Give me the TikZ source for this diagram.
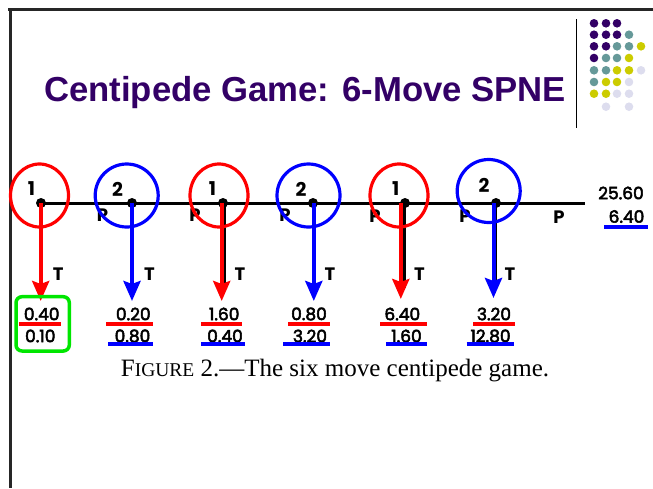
\documentclass[tikz,border=0pt]{standalone}
\usepackage{fontspec}
\setmainfont{Liberation Serif}
\newfontfamily\titlefont{Liberation Sans}
\newfontfamily\numfont{Poppins}
\newfontfamily\payfont[FakeBold=3]{Poppins}
\usetikzlibrary{arrows.meta,shapes.geometric}

\definecolor{deckpurple}{RGB}{51,0,102}
\definecolor{deckteal}{RGB}{102,153,153}
\definecolor{deckyellow}{RGB}{204,204,0}
\definecolor{decklav}{RGB}{221,221,238}
\definecolor{pone}{RGB}{255,0,0}
\definecolor{ptwo}{RGB}{0,0,255}
\definecolor{spnegreen}{RGB}{0,230,0}

\begin{document}
\begin{tikzpicture}[x=1pt,y=-1pt,
  decision/.style={circle,fill=black,inner sep=0pt,minimum size=10pt},
  ringone/.style={ellipse,draw=pone,line width=3.2pt,minimum width=58pt,minimum height=63pt,inner sep=0pt},
  ringtwo/.style={circle,draw=ptwo,line width=3.2pt,minimum size=63pt,inner sep=0pt},
  who/.style={font=\numfont\bfseries\fontsize{19}{19}\selectfont,inner sep=0pt},
  act/.style={font=\numfont\bfseries\fontsize{18}{18}\selectfont,inner sep=0pt},
  pay/.style={font=\payfont\fontsize{17}{17}\selectfont,inner sep=0pt},
  takeone/.style={pone,line width=4pt,-{Stealth[length=20pt,width=17pt,inset=3pt]}},
  taketwo/.style={ptwo,line width=4pt,-{Stealth[length=20pt,width=17pt,inset=3pt]}},
  ulone/.style={pone,line width=4pt},
  ultwo/.style={ptwo,line width=4pt},
  deckdot/.style={radius=4.3pt}]
\useasboundingbox (0,0) rectangle (653,488);

% slide frame
\draw[black!85,line width=3pt] (8,9) -- (653,9);
\draw[black!85,line width=2.5pt] (10.3,8) -- (10.3,488);

% title and separator
\node[anchor=base west,inner sep=0pt,text=deckpurple,
      font=\titlefont\bfseries\fontsize{34.7}{40}\selectfont] (title) at (44,101)
      {Centipede Game: 6-Move SPNE};
\draw[black,line width=1pt] (576,19) -- (576,128);

% decorative dot grid
\foreach \c/\x/\y in {
  deckpurple/594/23.3, deckpurple/606/23.3, deckpurple/617/23.3,
  deckpurple/594/34.7, deckpurple/606/34.7, deckpurple/617/34.7, deckteal/629/34.7,
  deckpurple/594/46.3, deckpurple/606/46.3, deckteal/617/46.3, deckteal/629/46.3, deckyellow/641/46.3,
  deckpurple/594/58, deckteal/606/58, deckteal/617/58, deckyellow/629/58,
  deckteal/594/70.3, deckteal/606/70.3, deckyellow/617/70.3, deckyellow/629/70.3, decklav/641/70.3,
  deckteal/594/82, deckyellow/606/82, deckyellow/617/82, decklav/629/82,
  deckyellow/594/93.7, deckyellow/606/93.7, decklav/617/93.7, decklav/629/93.7,
  decklav/606/106.7, decklav/629/106.7}
  \fill[\c] (\x,\y) circle[deckdot];

% the game line
\node[decision] (d1) at (41,203) {};
\node[decision] (d2) at (132,203) {};
\node[decision] (d3) at (223,203) {};
\node[decision] (d4) at (313,203) {};
\node[decision] (d5) at (405,203) {};
\node[decision] (d6) at (496,203) {};
\coordinate (stop) at (585,203);
\draw[black,line width=3pt] (d1.center) -- (stop);

% pass labels
\node[act] (p1) at (102.5,215) {P};
\node[act] (p2) at (195,215) {P};
\node[act] (p3) at (285,215) {P};
\node[act] (p4) at (375,216) {P};
\node[act] (p5) at (465,216) {P};
\node[act] (p6) at (559,217) {P};

% original black stems showing beside the coloured ones
\draw[black,line width=2.2pt] (225,203) -- (225,288);
\draw[black,line width=2.6pt] (404.7,203) -- (404.7,288);
\draw[black,line width=1.4pt] (496.2,203) -- (496.2,288);

% player rings and numbers
\node[ringone] (r1) at (39.5,195.5) {};
\node[ringtwo] (r2) at (126.7,195.5) {};
\node[ringone] (r3) at (219,195.5) {};
\node[ringtwo] (r4) at (308.5,195.5) {};
\node[ringone] (r5) at (399,195.5) {};
\node[ringtwo] (r6) at (488.7,191) {};
\node[who] (w1) at (31.5,188.7) {1};
\node[who] (w2) at (117.5,189.5) {2};
\node[who] (w3) at (212.5,188.7) {1};
\node[who] (w4) at (301,189.5) {2};
\node[who] (w5) at (395.7,188.3) {1};
\node[who] (w6) at (484,185.7) {2};

% take arrows
\coordinate (e1) at (40.7,301);
\coordinate (e2) at (132,301);
\coordinate (e3) at (221.7,301);
\coordinate (e4) at (313.8,301);
\coordinate (e5) at (400.8,299);
\coordinate (e6) at (493.5,298);
\draw[takeone] ([xshift=-0.3pt]d1.center) -- (e1);
\draw[taketwo] (d2.center) -- (e2);
\draw[takeone] ([xshift=-1.3pt]d3.center) -- (e3);
\draw[taketwo] ([xshift=0.8pt]d4.center) -- (e4);
\draw[takeone] ([xshift=-4.2pt]d5.center) -- (e5);
\draw[taketwo] ([xshift=-2.5pt]d6.center) -- (e6);
\node[act] (t1) at (58.3,274) {T};
\node[act] (t2) at (149.5,274) {T};
\node[act] (t3) at (240,274) {T};
\node[act] (t4) at (330,274) {T};
\node[act] (t5) at (419.5,274) {T};
\node[act] (t6) at (510,274) {T};

% payoffs: player 1 on top, player 2 below
\node[pay] (a1) at (41.7,314) {0.40};
\node[pay] (b1) at (40.3,336) {0.10};
\node[pay] (a2) at (133.3,314) {0.20};
\node[pay] (b2) at (132.5,336) {0.80};
\node[pay] (a3) at (224.2,314) {1.60};
\node[pay] (b3) at (225,336) {0.40};
\node[pay] (a4) at (309,314) {0.80};
\node[pay] (b4) at (310,336) {3.20};
\node[pay] (a5) at (402.3,314) {6.40};
\node[pay] (b5) at (406.5,336) {1.60};
\node[pay] (a6) at (494,314) {3.20};
\node[pay] (b6) at (490.5,336) {12.80};
\node[pay] (a7) at (621,193) {25.60};
\node[pay] (b7) at (626.5,216.5) {6.40};

\draw[ulone] (19.3,323.5) -- (61,323.5);
\draw[ulone] (106,323.5) -- (152.7,323.5);
\draw[ultwo] (108.3,344) -- (152.7,344);
\draw[ulone] (201,323.5) -- (241.7,323.5);
\draw[ultwo] (201,344) -- (245,344);
\draw[ulone] (288.3,323.5) -- (330,323.5);
\draw[ultwo] (283,344) -- (330,344);
\draw[ulone] (380,323.5) -- (426.7,323.5);
\draw[ultwo] (386,344) -- (426.7,344);
\draw[ulone] (473,323.5) -- (515,323.5);
\draw[ultwo] (466.7,344) -- (514,344);
\draw[ultwo] (604,226.7) -- (648.3,226.7);

% equilibrium outcome
\draw[spnegreen,line width=3.5pt,rounded corners=6pt] (16,296.7) rectangle (69.3,351);

% caption
\node[anchor=base,inner sep=0pt,font=\fontsize{25}{28}\selectfont] (cap) at (335,376)
  {F{\fontsize{19.5}{22}\selectfont IGURE} 2.---The six move centipede game.};
\end{tikzpicture}
\end{document}
